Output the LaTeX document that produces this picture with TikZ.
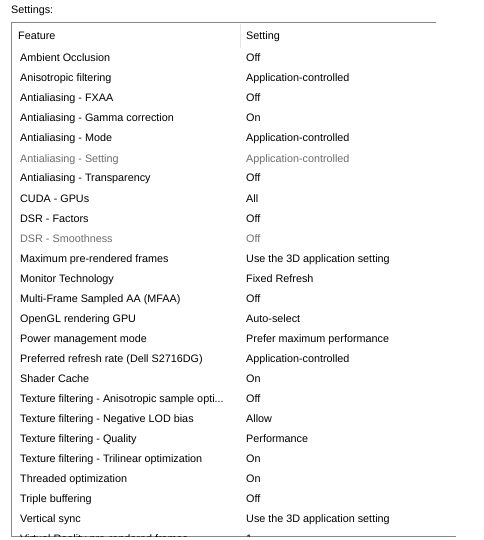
\documentclass[tikz,border=0pt]{standalone}
\usepackage{fontspec}
\setmainfont{Liberation Sans}
\definecolor{frame}{HTML}{828790}
\definecolor{divider}{HTML}{E5E5E5}
\definecolor{dis}{HTML}{6D6D6D}
\newcommand\mydots{...}
\begin{document}
\begin{tikzpicture}[x=1pt,y=-1pt,
  txt/.style={anchor=base west,inner sep=0pt,font=\fontsize{10.8}{13}\selectfont,text=black},
  distxt/.style={txt,text=dis},
  framel/.style={draw=frame,line width=1pt},
]
\useasboundingbox (0,0) rectangle (483,540);
\node[txt] (title) at (11,13.5) {Settings:};
\draw[framel] (11,22.5) coordinate (tl) -- (436,22.5) coordinate (tr);
\draw[framel] (11.5,22) coordinate (lt) -- (11.5,537) coordinate (lb);
\draw[framel] (11,536.5) coordinate (bl) -- (456,536.5) coordinate (br);
\draw[draw=divider,line width=1pt] (240.5,24) coordinate (d1) -- (240.5,48) coordinate (d2);
\node[txt] (hf) at (18,40) {Feature};
\node[txt] (hs) at (246,40) {Setting};
\begin{scope}
\clip (12,23) rectangle (436,536);
\foreach \i/\f/\s/\st in {
  0/Ambient Occlusion/Off/txt,
  1/Anisotropic filtering/Application-controlled/txt,
  2/Antialiasing - FXAA/Off/txt,
  3/Antialiasing - Gamma correction/On/txt,
  4/Antialiasing - Mode/Application-controlled/txt,
  5/Antialiasing - Setting/Application-controlled/distxt,
  6/Antialiasing - Transparency/Off/txt,
  7/CUDA - GPUs/All/txt,
  8/DSR - Factors/Off/txt,
  9/DSR - Smoothness/Off/distxt,
  10/Maximum pre-rendered frames/Use the 3D application setting/txt,
  11/Monitor Technology/Fixed Refresh/txt,
  12/Multi-Frame Sampled AA (MFAA)/Off/txt,
  13/OpenGL rendering GPU/Auto-select/txt,
  14/Power management mode/Prefer maximum performance/txt,
  15/Preferred refresh rate (Dell S2716DG)/Application-controlled/txt,
  16/Shader Cache/On/txt,
  17/Texture filtering - Anisotropic sample opti\mydots/Off/txt,
  18/Texture filtering - Negative LOD bias/Allow/txt,
  19/Texture filtering - Quality/Performance/txt,
  20/Texture filtering - Trilinear optimization/On/txt,
  21/Threaded optimization/On/txt,
  22/Triple buffering/Off/txt,
  23/Vertical sync/Use the 3D application setting/txt,
  24/Virtual Reality pre-rendered frames/1/txt}
{
  \node[\st] (f\i) at (20,62+20*\i) {\f};
  \node[\st] (s\i) at (246,62+20*\i) {\s};
}
\end{scope}
\end{tikzpicture}
\end{document}
